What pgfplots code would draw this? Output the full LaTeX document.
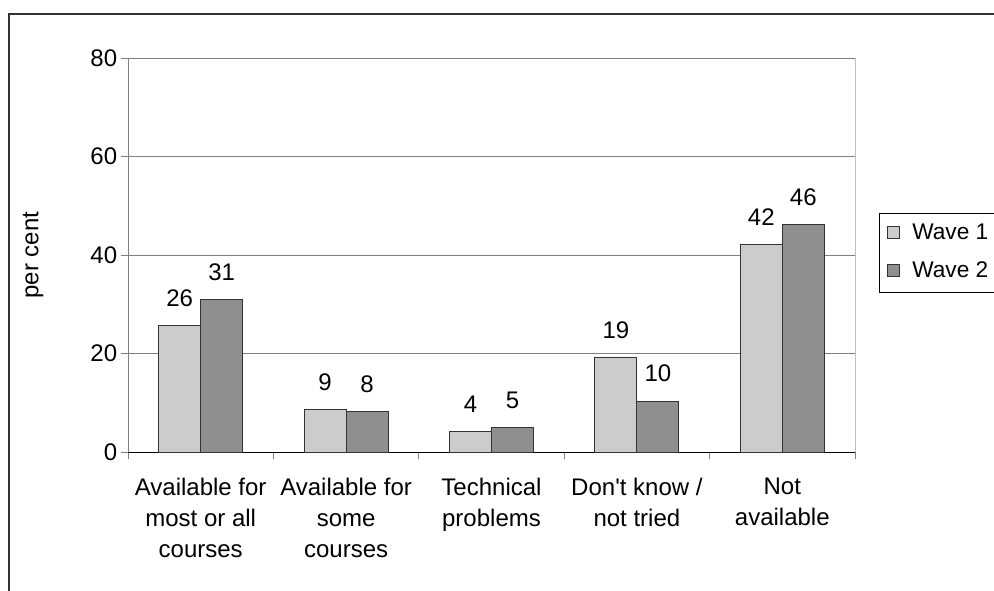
\documentclass[border=0pt]{standalone}
\usepackage{fontspec}
\setmainfont{Liberation Sans}
\usepackage{pgfplots}
\usepackage{pgfplotstable}
\pgfplotsset{compat=1.18}
\definecolor{wlight}{HTML}{CCCCCC}
\definecolor{wdark}{HTML}{8F8F8F}
\definecolor{gridc}{HTML}{808080}
\definecolor{edgec}{HTML}{333333}
\pgfplotstableread{
x w1 l1 w2 l2
0 25.6 26 30.9 31
1 8.6 9 8.2 8
2 4.1 4 4.9 5
3 19.1 19 10.3 10
4 42.2 42 46.1 46
}\datatable
\begin{document}
\begin{tikzpicture}
\useasboundingbox (0,0) rectangle (745.5pt,442.5pt);
\draw[line width=0.9pt, black!80] (6.75pt,-5pt) -- (6.75pt,432pt) -- (760pt,432pt);
\begin{axis}[
  at={(96pt,103.5pt)}, anchor=south west,
  scale only axis, width=545.25pt, height=295.5pt,
  xmin=-0.5, xmax=4.5, ymin=0, ymax=80,
  axis x line*=bottom, axis y line*=left,
  x axis line style={black, line width=0.75pt},
  y axis line style={gridc, line width=0.75pt},
  ytick={0,20,40,60,80},
  ymajorgrids, grid style={gridc, line width=0.75pt},
  xtick={-0.5,0.5,1.5,2.5,3.5,4.5},
  xticklabels={{Available for\\most or all\\courses},{Available for\\some\\courses},{Technical\\problems},{Don\textquotesingle t know /\\not tried},{Not\\available},{}},
  xticklabel style={xshift=54.52pt, align=center, anchor=north, yshift=-10.5pt},
  yticklabel style={xshift=1pt},
  /pgf/number format/assume math mode=true,
  tick label style={font=\fontsize{18}{23.25}\selectfont},
  tick align=outside, major tick length=5.6pt,
  tick style={gridc, line width=0.75pt},
  ybar=0pt, bar width=31.5pt,
  point meta=explicit symbolic,
  nodes near coords,
  nodes near coords style={font=\fontsize{18}{22}\selectfont, anchor=south, inner sep=0pt, yshift=14pt, black},
  legend style={at={(axis description cs:1.033,0.6066)}, anchor=north west, draw=none, fill=none,
    font=\fontsize{17}{21}\selectfont, row sep=10.75pt, inner xsep=6pt, inner ysep=6pt},
  legend cell align=left,
  legend image code/.code={\draw[#1, line width=0.75pt] (0pt,-4.5pt) rectangle (9pt,4.5pt);},
  clip=false,
]
\addplot[fill=wlight, draw=edgec, line width=0.75pt] table[x=x, y=w1, meta=l1] {\datatable};
\addplot[fill=wdark, draw=edgec, line width=0.75pt] table[x=x, y=w2, meta=l2] {\datatable};
\legend{\hspace*{7pt}Wave 1, \hspace*{7pt}Wave 2}
\draw[gridc!50, line width=0.75pt] (rel axis cs:1,0) -- (rel axis cs:1,1);
\draw[black, line width=0.75pt] (axis description cs:1.25,0.6066) -- (axis description cs:1.033,0.6066)
  -- (axis description cs:1.033,0.4036) -- (axis description cs:1.25,0.4036);
\end{axis}
\node[rotate=90, font=\fontsize{18}{22}\selectfont] at (24.75pt,251.25pt) {per cent};
\end{tikzpicture}
\end{document}
